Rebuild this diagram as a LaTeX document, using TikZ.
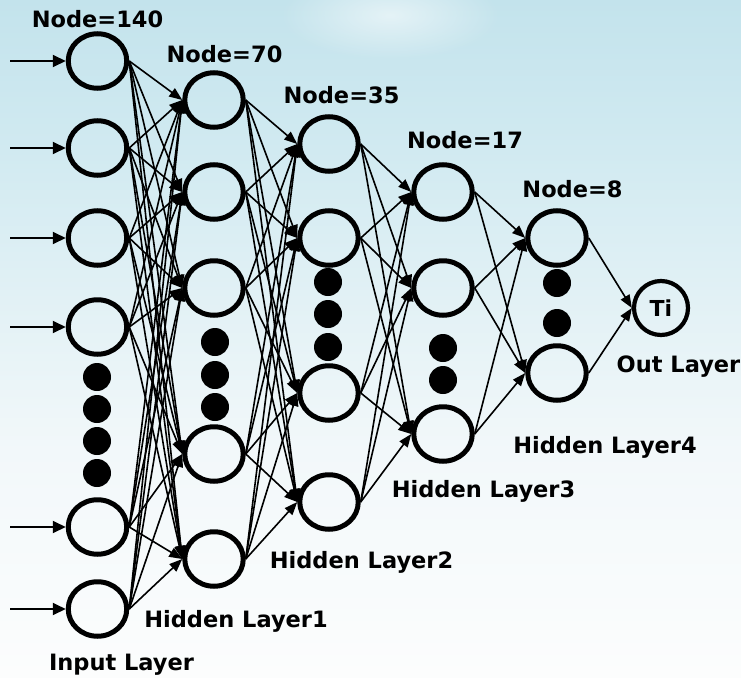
\documentclass[tikz,border=0pt]{standalone}
\usepackage{fontspec}
\setmainfont{DejaVu Sans}
\usetikzlibrary{arrows.meta,shapes.geometric,fadings}

\definecolor{skyA}{HTML}{C3E3EC}
\definecolor{skyB}{HTML}{D1EAF1}
\definecolor{skyC}{HTML}{E2F1F5}
\definecolor{skyD}{HTML}{F2F8FA}
\definecolor{skyE}{HTML}{FCFDFD}

\tikzfading[name=softglow, inner color=transparent!0, outer color=transparent!100]

\begin{document}
\begin{tikzpicture}[x=1pt,y=-1pt,
  unit/.style={ellipse, draw=black, line width=5pt, minimum width=58.5pt, minimum height=54.5pt, inner sep=0pt},
  outunit/.style={circle, draw=black, line width=4.2pt, minimum size=54pt, inner sep=0pt,
    font=\bfseries\fontsize{22}{26}\selectfont},
  dot/.style={circle, fill=black, minimum size=28pt, inner sep=0pt},
  link/.style={line width=1.6pt, -{Triangle[length=13pt,width=10pt]}},
  feed/.style={line width=2pt, -{Triangle[length=13pt,width=12pt]}},
  lbl/.style={anchor=base, inner sep=0pt, font=\bfseries\fontsize{22.5}{27}\selectfont}
]
% sky background
\useasboundingbox (0,0) rectangle (741,677);
\shade[top color=skyA, bottom color=skyB] (0,0) rectangle (741,150);
\shade[top color=skyB, bottom color=skyC] (0,150) rectangle (741,300);
\shade[top color=skyC, bottom color=skyD] (0,300) rectangle (741,450);
\shade[top color=skyD, bottom color=skyE] (0,450) rectangle (741,677);
\fill[white, opacity=0.55, path fading=softglow] (390,15) ellipse (110pt and 45pt);

% input layer
\foreach \y [count=\i] in {61,148,238,327,527,609} {
  \node[unit] (in\i) at (97.5,\y) {};
  \coordinate (src\i) at (10,\y);
}
% hidden layers
\foreach \y [count=\i] in {100,192,288,454,559} \node[unit] (ha\i) at (214,\y) {};
\foreach \y [count=\i] in {144,238,393,502} \node[unit] (hb\i) at (329,\y) {};
\foreach \y [count=\i] in {192,288,434} \node[unit] (hc\i) at (443,\y) {};
\foreach \y [count=\i] in {238,373} \node[unit] (hd\i) at (557,\y) {};
% output
\node[outunit] (ti) at (661,308) {Ti};

% ellipsis dots
\foreach \y [count=\i] in {377,409,441,473} \node[dot] (din\i) at (97,\y) {};
\foreach \y [count=\i] in {342,375,407} \node[dot] (dha\i) at (215,\y) {};
\foreach \y [count=\i] in {282,314,347} \node[dot] (dhb\i) at (328,\y) {};
\foreach \y [count=\i] in {348,380} \node[dot] (dhc\i) at (443,\y) {};
\foreach \y [count=\i] in {283,323} \node[dot] (dhd\i) at (557,\y) {};

% inputs
\foreach \i in {1,...,6} \draw[feed] (src\i) -- (in\i.west);

% fully connected layers
\foreach \i in {1,...,6} \foreach \j in {1,...,5} \draw[link] (in\i.east) -- (ha\j.west);
\foreach \i in {1,...,5} \foreach \j in {1,...,4} \draw[link] (ha\i.east) -- (hb\j.west);
\foreach \i in {1,...,4} \foreach \j in {1,...,3} \draw[link] (hb\i.east) -- (hc\j.west);
\foreach \i in {1,...,3} \foreach \j in {1,2} \draw[link] (hc\i.east) -- (hd\j.west);
\foreach \i in {1,2} \draw[link] (hd\i.east) -- (ti.west);

% labels
\node[lbl] (n140) at (97.5,28) {Node=140};
\node[lbl] (n70) at (224.5,63) {Node=70};
\node[lbl] (n35) at (341.5,103) {Node=35};
\node[lbl] (n17) at (465,148) {Node=17};
\node[lbl] (n8) at (572.5,197) {Node=8};
\node[lbl] (lout) at (678.5,372) {Out Layer};
\node[lbl] (l4) at (605,453) {Hidden Layer4};
\node[lbl] (l3) at (483.5,497) {Hidden Layer3};
\node[lbl] (l2) at (361.5,568) {Hidden Layer2};
\node[lbl] (l1) at (236,627) {Hidden Layer1};
\node[lbl] (lin) at (121.5,670) {Input Layer};
\end{tikzpicture}
\end{document}
